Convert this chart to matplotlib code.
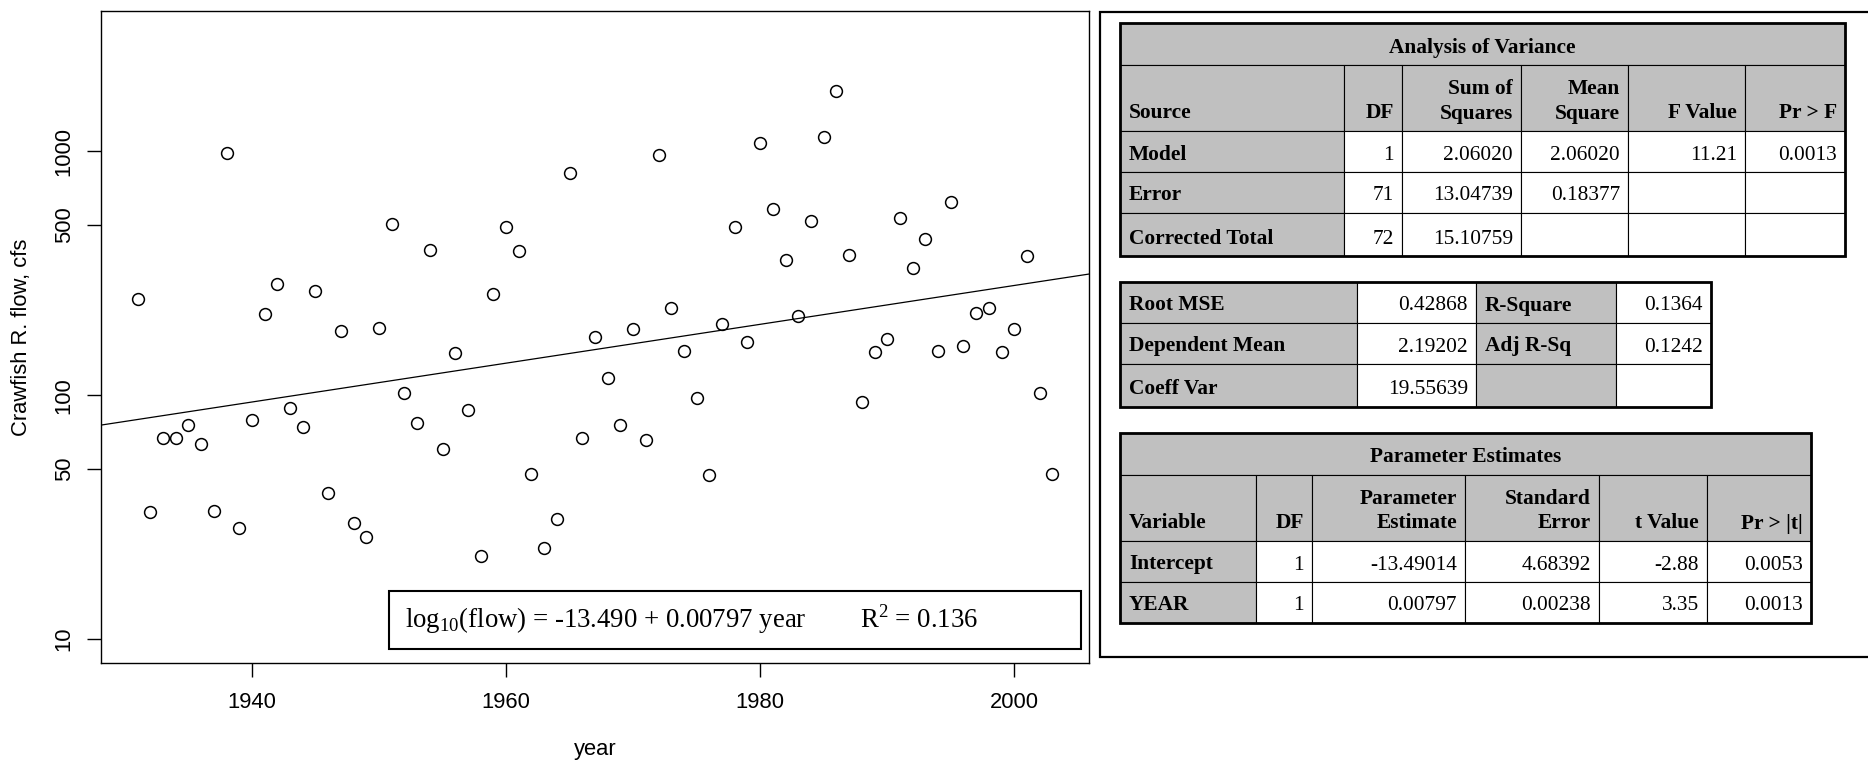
import matplotlib.pyplot as plt
import numpy as np
from matplotlib.patches import Rectangle
from matplotlib.ticker import NullLocator

plt.rcParams['mathtext.fontset'] = 'custom'
plt.rcParams['mathtext.rm'] = 'Liberation Serif'

# annual flow of Crawfish River, one value per year
years = np.arange(1931, 2004)
flow = [249, 33.2, 66.4, 66.4, 75.2, 62.8, 33.5, 989, 28.4, 79.4,
        215, 285, 88.9, 74.3, 267, 39.7, 184, 30.0, 26.2, 188,
        505, 102, 76.9, 394, 60.1, 149, 86.9, 21.9, 261, 489,
        390, 47.4, 23.5, 31.0, 817, 66.4, 174, 118, 75.2, 186,
        65.7, 967, 228, 152, 97.3, 46.9, 195, 489, 165, 1081,
        578, 357, 211, 516, 1144, 1770, 377, 94.0, 151, 170,
        534, 333, 436, 152, 618, 159, 218, 228, 151, 186,
        373, 102, 47.4]

b0, b1 = -13.490, 0.00797
r2 = 0.136
ytick_vals = [10, 50, 100, 500, 1000]
xtick_vals = [1940, 1960, 1980, 2000]

anova_title = 'Analysis of Variance'
anova_header = ['Source', 'DF', 'Sum of\nSquares', 'Mean\nSquare', 'F Value', 'Pr > F']
anova_rows = [['Model', '1', '2.06020', '2.06020', '11.21', '0.0013'],
              ['Error', '71', '13.04739', '0.18377', '', ''],
              ['Corrected Total', '72', '15.10759', '', '', '']]
fit_rows = [['Root MSE', '0.42868', 'R-Square', '0.1364'],
            ['Dependent Mean', '2.19202', 'Adj R-Sq', '0.1242'],
            ['Coeff Var', '19.55639', '', '']]
param_title = 'Parameter Estimates'
param_header = ['Variable', 'DF', 'Parameter\nEstimate', 'Standard\nError', 't Value', 'Pr > |t|']
param_rows = [['Intercept', '1', '-13.49014', '4.68392', '-2.88', '0.0053'],
              ['YEAR', '1', '0.00797', '0.00238', '3.35', '0.0013']]

W, H = 1868, 762
GRAY = '#c0c0c0'
SANS = 'Liberation Sans'
SERIF = 'Liberation Serif'
TFS = 15.4
AFS = 15.8

fig = plt.figure(figsize=(W / 100, H / 100), dpi=100)


def box(x0, y0, x1, y1):
    return [x0 / W, 1 - y1 / H, (x1 - x0) / W, (y1 - y0) / H]


ax = fig.add_axes(box(101, 11, 1089, 663))
ax.set_yscale('log')
ax.plot(years, flow, 'o', mfc='none', mec='black', ms=8.5, mew=1.1)

xpad = 0.04 * (years.max() - years.min())
ax.set_xlim(years.min() - xpad, years.max() + xpad)
lo, hi = np.log10(10), np.log10(3000)
ax.set_ylim(10 ** (lo - 0.04 * (hi - lo)), 10 ** (hi + 0.04 * (hi - lo)))

xl = np.array(ax.get_xlim())
ax.plot(xl, 10 ** (b0 + b1 * xl), color='black', lw=0.9)

ax.set_xticks(xtick_vals)
ax.set_xticklabels([str(v) for v in xtick_vals], family=SANS, fontsize=AFS)
ax.set_yticks(ytick_vals)
ax.set_yticklabels([str(v) for v in ytick_vals], family=SANS, fontsize=AFS,
                   rotation=90, va='center')
ax.yaxis.set_minor_locator(NullLocator())
ax.tick_params(axis='both', length=10, width=1, direction='out')
ax.tick_params(axis='x', pad=11)
ax.tick_params(axis='y', pad=9)
for s in ax.spines.values():
    s.set_linewidth(1.0)

# overlay in pixel coordinates for labels, legend box and tables
tab = fig.add_axes([0, 0, 1, 1])
tab.set_xlim(0, W)
tab.set_ylim(H, 0)
tab.axis('off')

tab.text(22, 337, 'Crawfish R. flow, cfs', rotation=90, ha='center', va='center',
         family=SANS, fontsize=AFS)
tab.text(595, 750, 'year', ha='center', va='center', family=SANS, fontsize=AFS)

tab.add_patch(Rectangle((389, 591), 692, 58, fc='white', ec='black', lw=1.5))
tab.text(405, 620, r'log$_{\mathrm{10}}$(flow) = %.3f + %.5f year' % (b0, b1),
         ha='left', va='center', family=SERIF, fontsize=19.3)
tab.text(860, 620, r'R$^{\mathrm{2}}$ = %.3f' % r2,
         ha='left', va='center', family=SERIF, fontsize=19.3)

# right panel frame
tab.plot([W, 1100, 1100, W], [12, 12, 657, 657], color='black', lw=1.6,
         solid_joinstyle='miter')


def cell(x0, x1, y0, y1, text, gray, bold, ha):
    tab.add_patch(Rectangle((x0, y0), x1 - x0, y1 - y0,
                            fc=GRAY if gray else 'white', ec='black', lw=0.8))
    if ha == 'left':
        x = x0 + 9
    elif ha == 'right':
        x = x1 - 8
    else:
        x = (x0 + x1) / 2
    for i, line in enumerate(reversed(text.split('\n'))):
        tab.text(x, y1 - 12.5 - i * 24, line, ha=ha, va='baseline',
                 family=SERIF, fontsize=TFS,
                 fontweight='bold' if bold else 'normal')


def frame(x0, x1, y0, y1):
    tab.add_patch(Rectangle((x0, y0), x1 - x0, y1 - y0, fc='none',
                            ec='black', lw=2.0))


def stats_table(xe, ye, title, header, rows):
    cell(xe[0], xe[-1], ye[0], ye[1], title, True, True, 'center')
    for j, h in enumerate(header):
        cell(xe[j], xe[j + 1], ye[1], ye[2], h, True, True,
             'left' if j == 0 else 'right')
    for i, row in enumerate(rows):
        for j, v in enumerate(row):
            cell(xe[j], xe[j + 1], ye[i + 2], ye[i + 3], v, j == 0, j == 0,
                 'left' if j == 0 else 'right')
    frame(xe[0], xe[-1], ye[0], ye[-1])


stats_table([1120, 1344, 1402, 1521, 1628, 1745, 1845],
            [23, 65, 131, 172, 213, 256],
            anova_title, anova_header, anova_rows)

fx = [1120, 1357, 1476, 1616, 1711]
fy = [282, 323, 364, 407]
for i, row in enumerate(fit_rows):
    for j, v in enumerate(row):
        lab = j % 2 == 0
        cell(fx[j], fx[j + 1], fy[i], fy[i + 1], v, lab, lab,
             'left' if lab else 'right')
frame(fx[0], fx[-1], fy[0], fy[-1])

stats_table([1120, 1256, 1312, 1465, 1599, 1707, 1811],
            [433, 475, 541, 582, 623],
            param_title, param_header, param_rows)

fig.savefig('out.png', dpi=100)
